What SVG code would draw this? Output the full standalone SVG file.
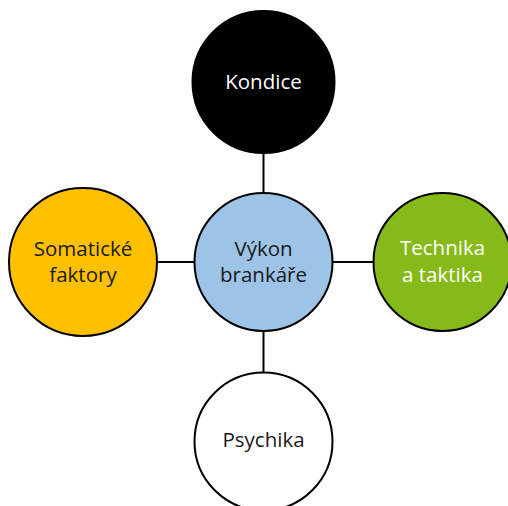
<svg xmlns="http://www.w3.org/2000/svg" width="508" height="506" viewBox="0 0 508 506">
<style>
.n{stroke:#000;stroke-width:2}
.t{font-family:"Open Sans","Noto Sans",sans-serif;font-size:20.5px;fill:#1a1a1a;text-anchor:middle}
.w{fill:#fff}
.c{stroke:#000;stroke-width:2;fill:none}
</style>
<rect width="508" height="506" fill="#fff"/>
<g id="connectors">
<line class="c" x1="263.5" y1="152" x2="263.5" y2="194"/>
<line class="c" x1="263.5" y1="331" x2="263.5" y2="373"/>
<line class="c" x1="157" y1="262" x2="195" y2="262"/>
<line class="c" x1="332" y1="262" x2="374" y2="262"/>
</g>
<g id="kondice">
<circle class="n" cx="263.5" cy="82" r="71" fill="#000"/>
<text class="t w" x="263.5" y="89">Kondice</text>
</g>
<g id="vykon">
<circle class="n" cx="263.5" cy="262" r="69" fill="#9DC3E6"/>
<text class="t" x="263.5" y="256">Výkon</text>
<text class="t" x="263.5" y="282">brankáře</text>
</g>
<g id="somaticke">
<circle class="n" cx="83" cy="262" r="74" fill="#FFC000"/>
<text class="t" x="83" y="256">Somatické</text>
<text class="t" x="83" y="282">faktory</text>
</g>
<g id="technika">
<circle class="n" cx="442.5" cy="262" r="69" fill="#86BA1A"/>
<text class="t w" x="442.5" y="255">Technika</text>
<text class="t w" x="442.5" y="282">a taktika</text>
</g>
<g id="psychika">
<circle class="n" cx="263.5" cy="441.5" r="69" fill="#fff"/>
<text class="t" x="263.5" y="447">Psychika</text>
</g>
</svg>
